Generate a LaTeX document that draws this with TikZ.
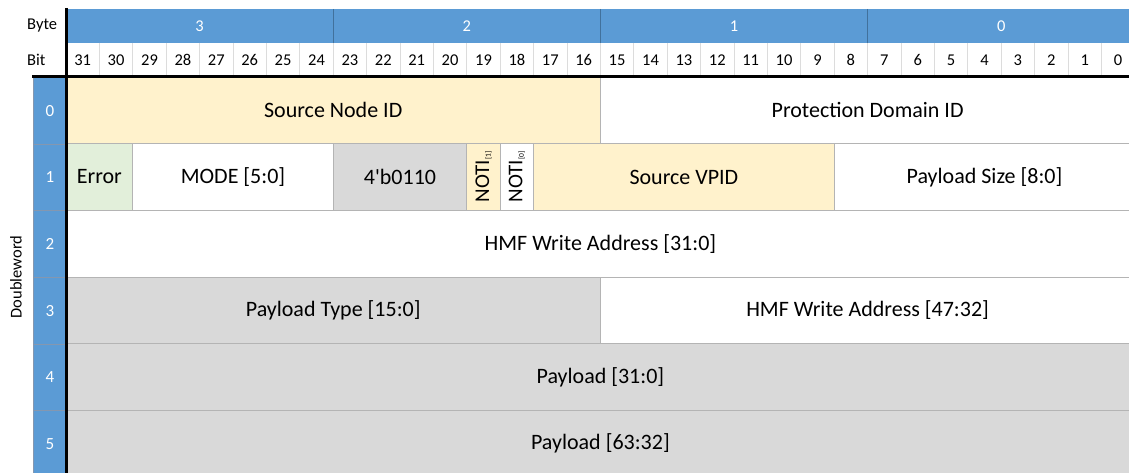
\documentclass[tikz,border=0pt]{standalone}
\usepackage{fontspec}
\setmainfont{Carlito}
% plain family without TeX ligatures, so ' stays a straight quote
\newfontfamily\cellfont{Carlito}

\definecolor{hdrblue}{HTML}{5B9BD5}
\definecolor{hdrline}{HTML}{41719C}
\definecolor{idxline}{HTML}{8497B0}
\definecolor{paleyellow}{HTML}{FFF2CC}
\definecolor{palegreen}{HTML}{E2EFDA}
\definecolor{cellgray}{HTML}{D9D9D9}
\definecolor{gridline}{HTML}{B4B4B4}
\definecolor{bitline}{HTML}{DCDCDC}

\tikzset{
  field/.style={draw=gridline, line width=1pt, inner sep=0pt, outer sep=0pt,
    anchor=north west, minimum height=66.67pt,
    font=\cellfont\fontsize{22}{26}\selectfont, text=black},
  bitlabel/.style={inner sep=0pt, font=\cellfont\fontsize{16.5}{19}\selectfont},
  bytelabel/.style={inner sep=0pt, text=white, font=\cellfont\fontsize{16.5}{19}\selectfont},
  idxcell/.style={fill=hdrblue, draw=idxline, line width=1pt, inner sep=0pt,
    anchor=north west, minimum width=33pt, minimum height=66.67pt,
    text=white, font=\cellfont\fontsize{17}{20}\selectfont},
  axis/.style={line width=3pt, black},
}

% field of one doubleword: name, row, high bit, low bit, fill, text
\newcommand{\regfield}[6]{%
  \pgfmathsetmacro{\fx}{66+(31-#3)*33.4}%
  \pgfmathsetmacro{\fw}{(#3-#4+1)*33.4}%
  \pgfmathsetmacro{\fy}{77+#2*66.67}%
  \node[field, fill=#5, minimum width=\fw pt] (#1) at (\fx,\fy) {#6};%
}
\newcommand{\notilabel}[1]{\rotatebox{90}{\fontsize{21}{24}\selectfont NOTI\raisebox{-1.5pt}{\fontsize{7.5}{8}\selectfont[#1]}}}

\begin{document}
\begin{tikzpicture}[x=1pt, y=-1pt]
\useasboundingbox (0,0) rectangle (1129,473);
\clip (0,0) rectangle (1129,473);

% byte header
\fill[hdrblue] (66,9) rectangle (1140,43);
\foreach \b/\hi in {3/31, 2/23, 1/15, 0/7} {
  \pgfmathsetmacro{\bx}{66+(31-\hi)*33.4+4*33.4}
  \node[bytelabel] (byte\b) at (\bx,26) {\b};
}
\foreach \b in {23, 15, 7} {
  \pgfmathsetmacro{\bx}{66+(31-\b)*33.4}
  \draw[hdrline, line width=1pt] (\bx,9) -- (\bx,43);
}

% bit numbers
\foreach \b in {0,...,31} {
  \pgfmathsetmacro{\bx}{66+(31-\b)*33.4}
  \pgfmathsetmacro{\cx}{\bx+16.7}
  \node[bitlabel] (bit\b) at (\cx,60) {\b};
  \ifnum\b<31 \draw[bitline, line width=1pt] (\bx,43) -- (\bx,77); \fi
}

\node[bitlabel, anchor=west] (bytehdr) at (27,26) {Byte};
\node[bitlabel, anchor=west] (bithdr) at (27,60) {Bit};

% doubleword fields
\regfield{srcnode}{0}{31}{16}{paleyellow}{Source Node ID}
\regfield{pdid}{0}{15}{0}{white}{Protection Domain ID}
\regfield{err}{1}{31}{30}{palegreen}{Error}
\regfield{mode}{1}{29}{24}{white}{MODE [5:0]}
\regfield{const}{1}{23}{20}{cellgray}{4'b0110}
\regfield{notione}{1}{19}{19}{paleyellow}{\notilabel{1}}
\regfield{notizero}{1}{18}{18}{white}{\notilabel{0}}
\regfield{vpid}{1}{17}{9}{paleyellow}{Source VPID}
\regfield{psize}{1}{8}{0}{white}{Payload Size [8:0]}
\regfield{hmflo}{2}{31}{0}{white}{HMF Write Address [31:0]}
\regfield{ptype}{3}{31}{16}{cellgray}{Payload Type [15:0]}
\regfield{hmfhi}{3}{15}{0}{white}{HMF Write Address [47:32]}
\regfield{plo}{4}{31}{0}{cellgray}{Payload [31:0]}
\regfield{phi}{5}{31}{0}{cellgray}{Payload [63:32]}

% doubleword index column
\foreach \r in {0,...,5} {
  \pgfmathsetmacro{\ry}{77+\r*66.67}
  \node[idxcell] (dw\r) at (33,\ry) {\r};
}
\node[rotate=90, inner sep=0pt, font=\cellfont\fontsize{16.5}{19}\selectfont] (dwlabel) at (16,277) {Doubleword};

% heavy axis lines
\draw[axis] (66,8) -- (66,480);
\draw[axis] (32,77) -- (1140,77);
\end{tikzpicture}
\end{document}
